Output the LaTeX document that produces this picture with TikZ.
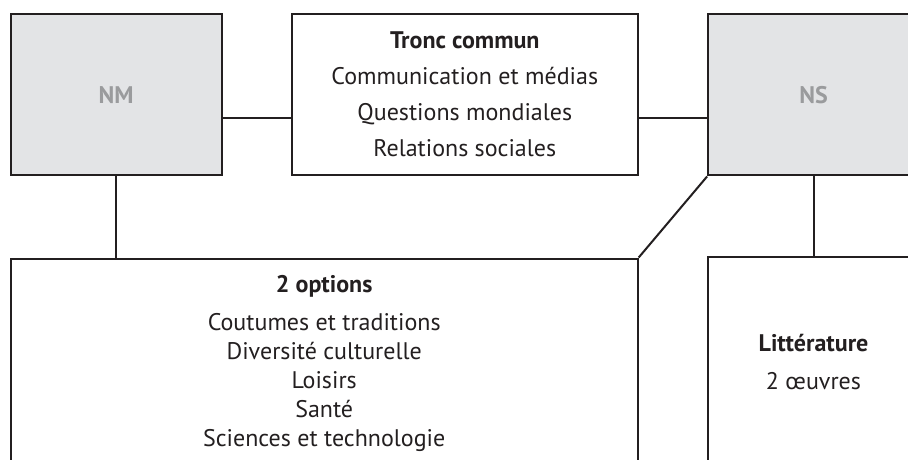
\documentclass[tikz,border=0pt]{standalone}
\usepackage{xcolor}
\usepackage{fontspec}
\setmainfont{PT Sans}
\definecolor{boxgray}{HTML}{E3E4E6}
\definecolor{labelgray}{HTML}{9A9B9D}
\definecolor{ink}{HTML}{231F20}

\begin{document}
\begin{tikzpicture}[x=1pt, y=-1pt, node distance=348.7pt,
        % Define block style
        block/.style={
        rectangle,
        draw=ink,
        line width=2pt,
        text=ink,
        align=center,
        inner sep=0pt,
        font=\fontsize{24}{29}\selectfont
        },
        level/.style={
        block,
        fill=boxgray,
        text=labelgray,
        font=\fontsize{24}{29}\selectfont\bfseries,
        minimum width=210.8pt,
        minimum height=161.5pt
        },
        link/.style={draw=ink, line width=2pt}]
        \useasboundingbox (0,0) rectangle (908,459);
        \clip (0,0) rectangle (908,459);
        % Nodes
        \node[level] (nm) at (116.1,94.7) {NM};
        \node[block, right of=nm, minimum width=346.3pt, minimum height=161.5pt] (tronc)
            {\textbf{Tronc commun}\\[7pt] Communication et médias\\[7pt] Questions mondiales\\[7pt] Relations sociales};
        \node[level, right of=tronc] (ns) {NS};
        \node[block, minimum width=627pt, minimum height=210pt] (options) at (324.2,363.5)
            {\textbf{2 options}\\[9pt] Coutumes et traditions\\ Diversité culturelle\\ Loisirs\\ Santé\\ Sciences et technologie};
        \node[block, below of=ns, node distance=267.6pt, minimum width=210.8pt, minimum height=210pt] (litt)
            {\textbf{Littérature}\\[9pt] 2 œuvres};

        % Lines
        \draw[link] (nm.east |- 0,118) -- (tronc.west |- 0,118);
        \draw[link] (tronc.east |- 0,118) -- (ns.west |- 0,118);
        \draw[link] (nm.south) -- (nm.south |- options.north);
        \draw[link] (ns.south) -- (ns.south |- litt.north);
        \draw[link] (ns.south west) -- (options.north east);
    \end{tikzpicture}
\end{document}
